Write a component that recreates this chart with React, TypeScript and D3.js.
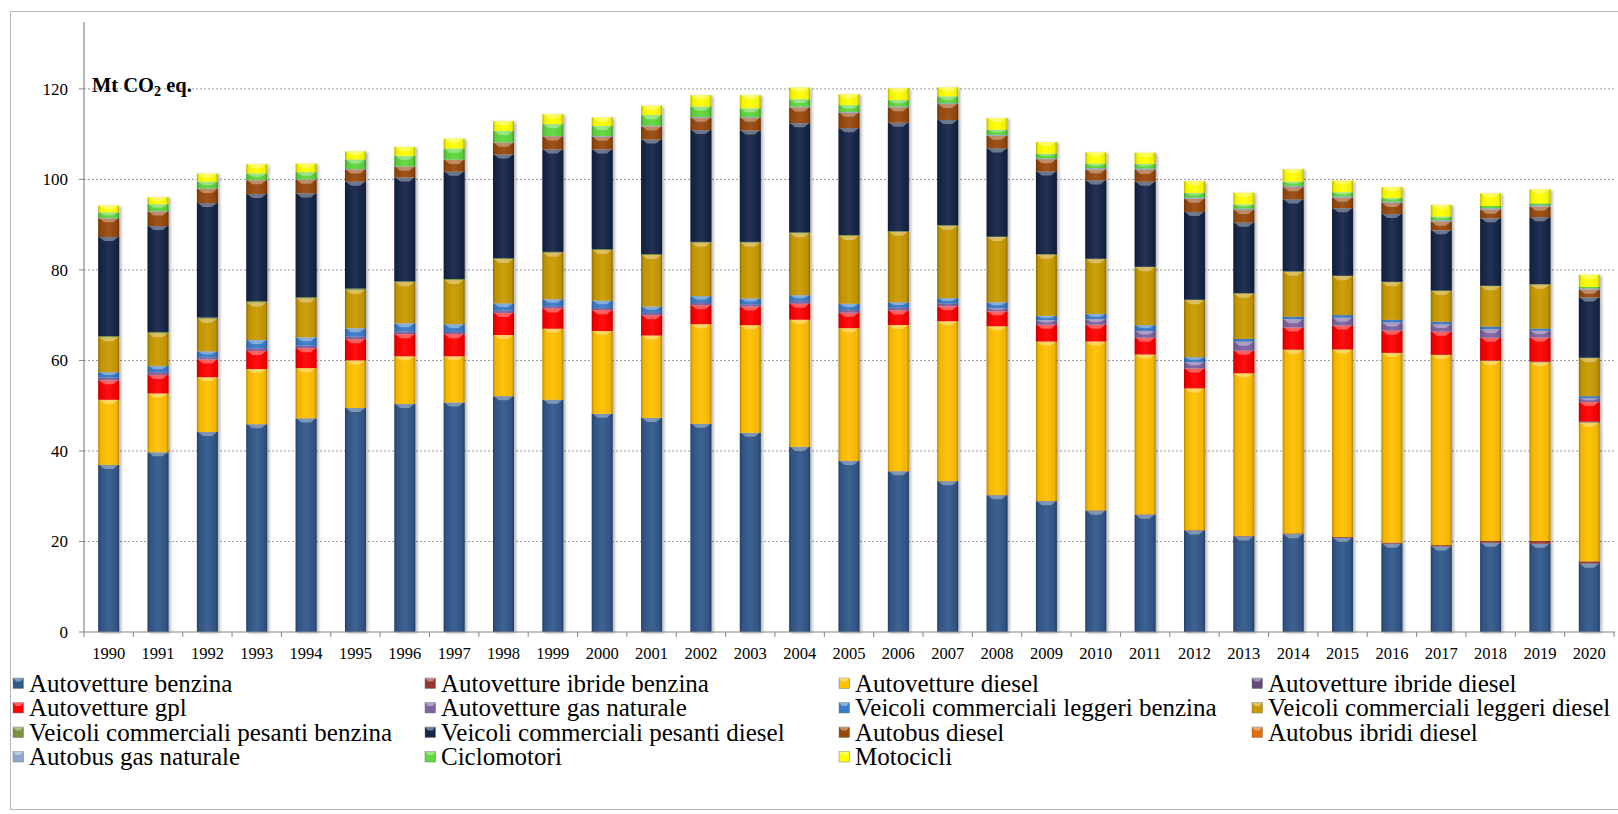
import React from "react";
import * as d3 from "d3";

const years = d3.range(1990, 2021).map(String);

const seriesNames = [
  "Autovetture benzina",
  "Autovetture ibride benzina",
  "Autovetture diesel",
  "Autovetture ibride diesel",
  "Autovetture gpl",
  "Autovetture gas naturale",
  "Veicoli commerciali leggeri benzina",
  "Veicoli commerciali leggeri diesel",
  "Veicoli commerciali pesanti benzina",
  "Veicoli commerciali pesanti diesel",
  "Autobus diesel",
  "Autobus ibridi diesel",
  "Autobus gas naturale",
  "Ciclomotori",
  "Motocicli",
];

const seriesColors = [
  "#32588A", "#953735", "#FFC000", "#604A7B", "#FF0000", "#8064A2", "#3A7CC8",
  "#C99A00", "#77933C", "#15284A", "#984807", "#E46C0A", "#8EA6CC", "#5FD83D", "#FFFF00",
];

const autovettureBenzina = [36.9, 39.7, 44.2, 45.9, 47.2, 49.5, 50.4, 50.7, 52.1, 51.3, 48.2, 47.3, 46.0, 44.0, 40.9, 37.8, 35.5, 33.3, 30.2, 28.9, 26.8, 25.9, 22.4, 21.1, 21.6, 20.8, 19.5, 18.9, 19.7, 19.5, 15.1];
const autovettureIbrideBenzina = [0, 0, 0, 0, 0, 0, 0, 0, 0, 0, 0, 0, 0, 0, 0, 0.02, 0.03, 0.05, 0.05, 0.06, 0.08, 0.1, 0.12, 0.15, 0.18, 0.2, 0.25, 0.3, 0.4, 0.6, 0.5];
const autovettureDiesel = [14.4, 13.0, 12.1, 12.2, 11.1, 10.5, 10.5, 10.2, 13.5, 15.7, 18.3, 18.2, 22.0, 23.8, 28.1, 29.3, 32.3, 35.3, 37.3, 35.2, 37.3, 35.3, 31.3, 35.9, 40.6, 41.4, 41.9, 42.0, 39.8, 39.5, 30.7];
const autovettureIbrideDiesel = [0, 0, 0, 0, 0, 0, 0, 0, 0, 0, 0, 0, 0, 0, 0, 0, 0, 0, 0, 0, 0, 0, 0, 0, 0, 0.02, 0.03, 0.05, 0.1, 0.15, 0.2];
const autovettureGpl = [4.3, 4.1, 3.9, 4.0, 4.4, 4.7, 4.9, 4.9, 4.9, 4.5, 4.6, 4.5, 4.2, 4.1, 3.5, 3.4, 3.2, 3.3, 3.3, 3.7, 3.7, 3.7, 4.4, 5.0, 4.9, 5.3, 4.9, 5.1, 5.0, 5.3, 4.3];
const autovettureGasNaturale = [0.6, 0.6, 0.5, 0.6, 0.6, 0.6, 0.6, 0.5, 0.5, 0.5, 0.5, 0.5, 0.5, 0.5, 0.6, 0.6, 0.6, 0.6, 0.7, 1.0, 1.2, 1.5, 1.4, 2.0, 1.8, 1.7, 1.8, 1.6, 1.9, 1.5, 0.8];
const vclBenzina = [1.2, 1.4, 1.3, 1.8, 1.8, 1.8, 1.8, 1.7, 1.6, 1.5, 1.6, 1.4, 1.5, 1.3, 1.3, 1.4, 1.2, 1.2, 1.3, 1.0, 1.2, 1.3, 1.1, 0.6, 0.6, 0.6, 0.6, 0.6, 0.6, 0.5, 0.5];
const vclDiesel = [7.7, 7.2, 7.2, 8.3, 8.6, 8.5, 9.1, 9.8, 9.8, 10.3, 11.2, 11.4, 11.8, 12.3, 13.7, 15.0, 15.6, 16.0, 14.4, 13.5, 12.1, 12.8, 12.6, 10.0, 9.9, 8.6, 8.3, 6.8, 8.9, 9.7, 8.4];
const vcpBenzina = [0.3, 0.3, 0.3, 0.3, 0.3, 0.3, 0.2, 0.2, 0.2, 0.2, 0.2, 0.2, 0.2, 0.2, 0.2, 0.2, 0.1, 0.1, 0.1, 0.1, 0.1, 0.1, 0.1, 0.1, 0.1, 0.1, 0.1, 0.1, 0.1, 0.1, 0.1];
const vcpDiesel = [21.9, 23.4, 25.3, 23.7, 22.9, 23.6, 22.9, 23.7, 22.9, 22.6, 22.0, 25.3, 24.7, 24.6, 24.1, 23.6, 24.0, 23.3, 19.5, 18.3, 17.3, 18.8, 19.4, 15.6, 15.9, 14.9, 15.0, 13.3, 14.9, 14.8, 13.3];
const autobusDiesel = [4.1, 3.2, 3.1, 3.0, 3.0, 2.7, 2.4, 2.6, 2.6, 2.9, 2.8, 2.9, 2.7, 2.8, 3.5, 3.4, 3.4, 3.5, 2.8, 2.7, 2.4, 2.6, 2.9, 2.8, 2.7, 2.3, 2.4, 1.9, 1.9, 2.3, 1.7];
const autobusIbridiDiesel = [0, 0, 0, 0, 0, 0, 0, 0, 0, 0, 0, 0, 0, 0, 0, 0, 0, 0, 0, 0, 0, 0, 0, 0, 0, 0.02, 0.02, 0.03, 0.03, 0.04, 0.04];
const autobusGasNaturale = [0.1, 0.1, 0.1, 0.1, 0.1, 0.1, 0.1, 0.1, 0.1, 0.1, 0.2, 0.2, 0.2, 0.2, 0.2, 0.2, 0.2, 0.2, 0.2, 0.2, 0.3, 0.3, 0.3, 0.3, 0.3, 0.3, 0.3, 0.3, 0.3, 0.3, 0.3];
const ciclomotori = [1.2, 1.5, 1.5, 1.4, 1.6, 2.1, 2.3, 2.4, 2.5, 2.6, 2.2, 2.3, 2.3, 1.9, 1.6, 1.5, 1.4, 1.5, 1.1, 1.0, 1.0, 1.0, 1.0, 0.9, 0.9, 0.9, 0.8, 0.8, 0.5, 0.4, 0.3];
const motocicli = [1.5, 1.6, 1.8, 2.1, 1.9, 1.8, 2.0, 2.2, 2.2, 2.2, 1.9, 2.1, 2.5, 2.9, 2.6, 2.4, 2.6, 2.0, 2.6, 2.6, 2.5, 2.5, 2.6, 2.6, 2.8, 2.6, 2.4, 2.6, 2.8, 3.1, 2.7];

const seriesValues = [
  autovettureBenzina, autovettureIbrideBenzina, autovettureDiesel, autovettureIbrideDiesel,
  autovettureGpl, autovettureGasNaturale, vclBenzina, vclDiesel, vcpBenzina, vcpDiesel,
  autobusDiesel, autobusIbridiDiesel, autobusGasNaturale, ciclomotori, motocicli,
];

const yTicks = [0, 20, 40, 60, 80, 100, 120];

const legendCols = 4;

export default function App() {
  const W = 1618, H = 814;
  const x0 = 84, x1 = 1614;
  const yBase = 632, yTop = 21;

  const x = d3.scaleBand<string>().domain(years).range([x0, x1]).paddingInner(0.575).paddingOuter(0.2875);
  const y = d3.scaleLinear().domain([0, 135]).range([yBase, yTop]);

  const rows = years.map((yr, i) => {
    const o: Record<string, number | string> = { year: yr };
    seriesNames.forEach((n, s) => (o[n] = seriesValues[s][i]));
    return o;
  });
  const stacked = d3.stack<any>().keys(seriesNames)(rows);

  const step = x.step();
  const bw = x.bandwidth();

  const legendColX = [13, 425, 839, 1252];
  const legendRowY = [683.5, 708, 732.5, 757];

  return (
    <svg width={W} height={H} style={{ position: "absolute", left: 0, top: 0, background: "#fff" }}
      fontFamily="'Liberation Serif', 'Times New Roman', serif">
      <defs>
        <linearGradient id="edge" x1="0" x2="1" y1="0" y2="0">
          <stop offset="0" stopColor="#000" stopOpacity="0.28" />
          <stop offset="0.12" stopColor="#000" stopOpacity="0.05" />
          <stop offset="0.5" stopColor="#fff" stopOpacity="0.06" />
          <stop offset="0.88" stopColor="#000" stopOpacity="0.05" />
          <stop offset="1" stopColor="#000" stopOpacity="0.3" />
        </linearGradient>
        <filter id="shadow" x="-30%" y="-5%" width="160%" height="110%">
          <feDropShadow dx="2" dy="1" stdDeviation="1.5" floodColor="#000" floodOpacity="0.3" />
        </filter>
      </defs>
      <rect x={10.5} y={11.5} width={1640} height={798} fill="#fff" stroke="#b8b8b8" strokeWidth={1} />

      {yTicks.filter((t) => t > 0).map((t) => (
        <line key={t} x1={x0} x2={x1} y1={y(t)} y2={y(t)} stroke="#999" strokeWidth={1} strokeDasharray="2,2" />
      ))}

      <g filter="url(#shadow)">
        {years.map((yr, i) => (
          <g key={yr}>
            {stacked.map((layer, s) => {
              const d = layer[i];
              const yt = y(d[1]);
              const yb = y(d[0]);
              const h = yb - yt;
              if (h <= 0.05) return null;
              return <rect key={s} x={x(yr)} y={yt} width={bw} height={h} fill={seriesColors[s]} />;
            })}
          </g>
        ))}
      </g>
      {years.map((yr, i) => (
        <g key={"b" + yr}>
          {stacked.map((layer, s) => {
            const d = layer[i];
            const yt = y(d[1]);
            const yb = y(d[0]);
            const h = yb - yt;
            if (h <= 0.05) return null;
            const bx = x(yr) as number;
            const hh = Math.min(4, h * 0.5);
            return (
              <g key={s}>
                <rect x={bx} y={yt} width={bw} height={h} fill="url(#edge)" />
                {h > 3 && (
                  <path d={`M${bx + 1},${yt} L${bx + bw - 1},${yt} L${bx + bw * 0.72},${yt + hh} L${bx + bw * 0.28},${yt + hh} Z`}
                    fill="#fff" fillOpacity={0.35} />
                )}
              </g>
            );
          })}
        </g>
      ))}

      <line x1={x0} x2={x0} y1={22} y2={yBase} stroke="#868686" strokeWidth={1.2} />
      <line x1={x0} x2={x1 + 1} y1={yBase} y2={yBase} stroke="#868686" strokeWidth={1.2} />
      {yTicks.map((t) => (
        <g key={"yt" + t}>
          <line x1={x0 - 5} x2={x0} y1={y(t)} y2={y(t)} stroke="#868686" />
          <text x={68} y={y(t)} dy="0.35em" textAnchor="end" fontSize={17} fill="#000">{t}</text>
        </g>
      ))}
      {d3.range(years.length + 1).map((k) => (
        <line key={"xt" + k} x1={x0 + k * step} x2={x0 + k * step} y1={yBase} y2={yBase + 5} stroke="#868686" />
      ))}
      {years.map((yr) => (
        <text key={"xl" + yr} x={(x(yr) as number) + bw / 2} y={659} textAnchor="middle" fontSize={16.5} fill="#000">{yr}</text>
      ))}

      <text x={92} y={92} fontSize={20.5} fontWeight="bold" fill="#000">
        Mt CO<tspan fontSize={14} dy={4}>2</tspan><tspan dy={-4}> eq.</tspan>
      </text>

      {seriesNames.map((n, s) => {
        const c = s % legendCols;
        const r = Math.floor(s / legendCols);
        const lx = legendColX[c];
        const ly = legendRowY[r];
        return (
          <g key={"lg" + s}>
            <rect x={lx} y={ly - 5.5} width={10.5} height={10.5} fill={seriesColors[s]} stroke="#777" strokeWidth={0.5} />
            <path d={`M${lx},${ly - 5.5} L${lx + 10.5},${ly - 5.5} L${lx + 7.5},${ly - 2} L${lx + 3},${ly - 2} Z`} fill="#fff" fillOpacity={0.4} />
            <text x={lx + 16} y={ly} dy="0.33em" fontSize={25} fill="#000">{n}</text>
          </g>
        );
      })}
    </svg>
  );
}
